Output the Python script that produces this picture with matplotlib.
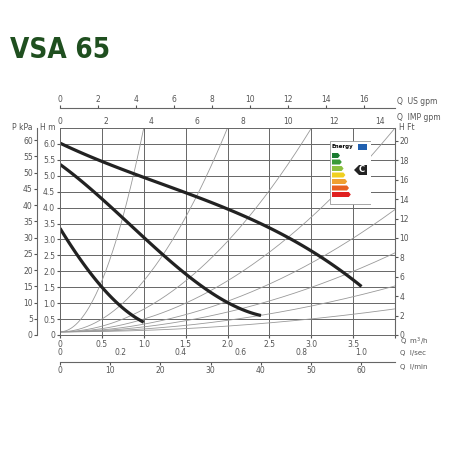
import numpy as np
import matplotlib
matplotlib.use("Agg")
import matplotlib.pyplot as plt
from matplotlib.patches import Rectangle, Polygon

# pump curves (Q m3/h, H m)
q1 = [0, 0.5, 1.0, 1.5, 2.0, 2.5, 3.0, 3.6]
h1 = [6.0, 5.5, 4.95, 4.45, 3.93, 3.35, 2.7, 1.5]
q2 = [0, 0.5, 1.0, 1.5, 2.0, 2.4]
h2 = [5.35, 4.3, 3.05, 1.9, 1.05, 0.6]
q3 = [0, 0.25, 0.5, 0.75, 1.0]
h3 = [3.35, 2.35, 1.5, 0.85, 0.4]
# system curves: H = h0 + k Q^2
sys_k = [6.4, 1.6, 0.71, 0.4, 0.24, 0.155, 0.09, 0.045]
sys_h0 = 0.1

fig = plt.figure(figsize=(4.5, 4.5), dpi=100)
L, R, B, T = 60/450, 395/450, 1-335/450, 1-128/450
ax = fig.add_axes([L, B, R-L, T-B])
ax.set_xlim(0, 4); ax.set_ylim(0, 6.5)
ax.set_xticks(np.arange(0, 4.01, 0.5))
ax.set_yticks(np.arange(0, 6.01, 0.5))
ax.set_xticklabels(['0', '0.5', '1.0', '1.5', '2.0', '2.5', '3.0', '3.5', ''])
ax.set_yticklabels(['0'] + [f'{v:.1f}' for v in np.arange(0.5, 6.01, 0.5)])
ax.grid(True, color='#666', lw=0.7)
for s in ax.spines.values():
    s.set_color('#666'); s.set_linewidth(0.7)
ax.tick_params(labelsize=5.5, colors='#555', length=2, pad=1.5)

qq = np.linspace(0, 4, 300)
for k in sys_k:
    ax.plot(qq, sys_h0 + k*qq**2, color='#999', lw=0.6)
for q, h in [(q1, h1), (q2, h2), (q3, h3)]:
    c = np.polyfit(q, h, 3)
    xs = np.linspace(q[0], q[-1], 100)
    ax.plot(xs, np.polyval(c, xs), color='#222', lw=2.3, solid_capstyle='butt')

# top US gpm
us = ax.secondary_xaxis((335-108)/207, functions=(lambda x: x*4.403, lambda x: x/4.403))
us.set_xticks(range(0, 17, 2)); us.tick_params(labelsize=5.5, colors='#555', length=2, pad=1)
us.spines['top'].set_color('#666')
imp = ax.secondary_xaxis('top', functions=(lambda x: x*3.666, lambda x: x/3.666))
imp.set_xticks(range(0, 15, 2)); imp.tick_params(labelsize=5.5, colors='#555', length=0, pad=1.5)
imp.spines['top'].set_visible(False)
# bottom
ls = ax.secondary_xaxis(-0.055, functions=(lambda x: x/3.6, lambda x: x*3.6))
ls.set_xticks([0, 0.2, 0.4, 0.6, 0.8, 1.0]); ls.set_xticklabels(['0', '0.2', '0.4', '0.6', '0.8', '1.0'])
ls.tick_params(labelsize=5.5, colors='#555', length=0, pad=1)
ls.spines['bottom'].set_visible(False)
lm = ax.secondary_xaxis((335-362)/207, functions=(lambda x: x*16.667, lambda x: x/16.667))
lm.set_xticks(range(0, 61, 10)); lm.tick_params(labelsize=5.5, colors='#555', length=2, pad=1)
lm.spines['bottom'].set_color('#666')
# left kPa
kp = ax.secondary_yaxis((37-60)/335, functions=(lambda h: h*9.81, lambda p: p/9.81))
kp.set_yticks(range(0, 61, 5)); kp.tick_params(labelsize=5.5, colors='#555', length=2, pad=1)
kp.spines['left'].set_color('#666')
# right ft
ft = ax.secondary_yaxis('right', functions=(lambda h: h*3.281, lambda f: f/3.281))
ft.set_yticks(range(0, 21, 2)); ft.tick_params(labelsize=5.5, colors='#555', length=2, pad=1)
ft.spines['right'].set_color('#666')

def t(x, y, s, fsz=5.5):
    fig.text(x/450, 1-y/450, s, fontsize=fsz, color='#555', va='center', ha='left')
t(397, 101, 'Q  US gpm'); t(397, 118, 'Q  IMP gpm')
t(400, 342, 'Q  m$^3$/h', 5); t(400, 353, 'Q  l/sec', 5); t(400, 367, 'Q  l/min', 5)
t(12, 128, 'P kPa'); t(40, 128, 'H m'); t(399, 128, 'H Ft')

txt = fig.text(10/450, 1-50/450, 'VSA 65', fontsize=20, fontweight='bold', color='#1f4f1f',
               family='DejaVu Sans', va='center', fontstretch='condensed')

# energy label inset
ia = fig.add_axes([329/450, 1-205/450, 42/450, 64/450])
ia.set_xlim(0, 42); ia.set_ylim(0, 64); ia.axis('off')
ia.add_patch(Rectangle((0.5, 0.5), 41, 63, fc='white', ec='#999', lw=0.6))
ia.text(2, 58, 'Energy', fontsize=4, fontweight='bold', va='center')
ia.add_patch(Rectangle((29, 55), 9, 6, fc='#2060b0'))
cols = ['#1a7a30', '#3a9a3a', '#8cc040', '#f0d020', '#f0a030', '#e86020', '#e02020']
for i, c in enumerate(cols):
    y = 47 - i*6.5
    w = 6 + i*1.8
    ia.add_patch(Polygon([(3, y), (3+w, y), (5+w, y+2.5), (3+w, y+5), (3, y+5)], fc=c, ec='none'))
ia.add_patch(Polygon([(38, 40), (30, 40), (25, 35), (30, 30), (38, 30)], fc='#222'))
ia.text(33, 35, 'C', color='white', fontsize=6, fontweight='bold', ha='center', va='center')

fig.savefig('out.png', dpi=100)
